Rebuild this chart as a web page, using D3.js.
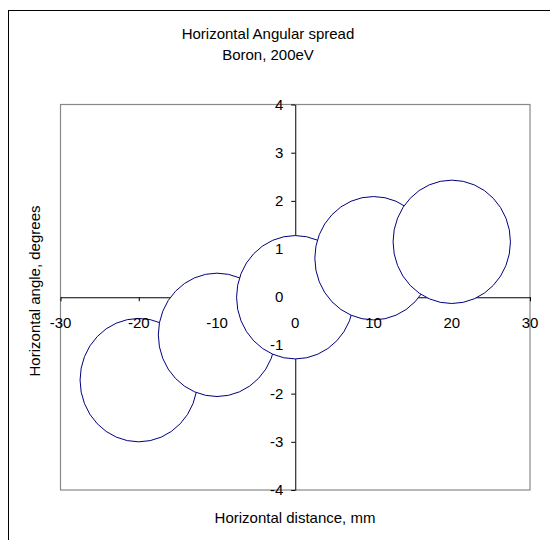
<!DOCTYPE html>
<html>
<head>
<meta charset="utf-8">
<script src="https://cdn.jsdelivr.net/npm/d3@7"></script>
<style>
body { margin: 0; background: #fff; }
svg text { font-family: "Liberation Sans", Arial, sans-serif; fill: #000; }
</style>
</head>
<body>
<div id="chart"></div>
<script>
(function(d3) {
'use strict';

// beam spots: centre distance (mm), centre angle (deg)
var spotX = [-20, -10, 0, 10, 20];
var spotY = [-1.72, -0.78, 0.0, 0.81, 1.15];
var spotRx = [7.5, 7.5, 7.5, 7.5, 7.5];     // mm
var spotRy = [1.28, 1.28, 1.28, 1.28, 1.28]; // deg

var xTicks = [-30, -20, -10, 0, 10, 20, 30];
var yTicks = [-4, -3, -2, -1, 0, 1, 2, 3, 4];

var width = 550, height = 540;
var plot = {left: 60.5, right: 530, top: 104.5, bottom: 490};

var svg = d3.select('#chart')
	.append('svg')
	.attr('width', width)
	.attr('height', height);

// outer frame
svg.append('rect')
	.attr('x', 8.5).attr('y', 10.5)
	.attr('width', 560).attr('height', 560)
	.attr('fill', 'none')
	.attr('stroke', '#000');

var x = d3.scaleLinear().domain([-30, 30]).range([plot.left, plot.right]);
var y = d3.scaleLinear().domain([-4, 4]).range([plot.bottom, plot.top]);

// plot area border
svg.append('rect')
	.attr('x', plot.left).attr('y', plot.top)
	.attr('width', plot.right - plot.left)
	.attr('height', plot.bottom - plot.top)
	.attr('fill', 'none')
	.attr('stroke', '#888')
	.attr('stroke-width', 1.2);

// axes crossing at zero (lines + tick marks, labels drawn later on top)
var xAxis = d3.axisBottom(x).tickValues(xTicks).tickSize(4).tickSizeOuter(0).tickFormat('');
var yAxis = d3.axisLeft(y).tickValues(yTicks).tickSize(4).tickSizeOuter(0).tickFormat('');

var gx = svg.append('g')
	.attr('transform', 'translate(0,' + y(0) + ')')
	.call(xAxis);
var gy = svg.append('g')
	.attr('transform', 'translate(' + x(0) + ',0)')
	.call(yAxis);
[gx, gy].forEach(function(g) {
	g.selectAll('path, line').attr('stroke', '#000');
});

// spots, drawn in order so later ones cover earlier ones
var spots = spotX.map(function(d, i) {
	return {x: d, y: spotY[i], rx: spotRx[i], ry: spotRy[i]};
});
svg.append('g')
	.selectAll('ellipse')
	.data(spots)
	.enter().append('ellipse')
	.attr('cx', function(d) { return x(d.x); })
	.attr('cy', function(d) { return y(d.y); })
	.attr('rx', function(d) { return x(d.rx) - x(0); })
	.attr('ry', function(d) { return y(0) - y(d.ry); })
	.attr('fill', '#fff')
	.attr('stroke', '#000080')
	.attr('stroke-width', 1);

// tick labels on top
svg.append('g')
	.selectAll('text')
	.data(xTicks)
	.enter().append('text')
	.attr('x', function(d) { return x(d); })
	.attr('y', y(0) + 31)
	.attr('text-anchor', 'middle')
	.style('font-size', '15px')
	.text(function(d) { return d; });

svg.append('g')
	.selectAll('text')
	.data(yTicks)
	.enter().append('text')
	.attr('x', x(0) - 12)
	.attr('y', function(d) { return y(d) + 5; })
	.attr('text-anchor', 'end')
	.style('font-size', '15px')
	.text(function(d) { return d; });

// titles
var title = svg.append('text')
	.attr('text-anchor', 'middle')
	.style('font-size', '15px');
title.append('tspan').attr('x', 268).attr('y', 39).text('Horizontal Angular spread');
title.append('tspan').attr('x', 268).attr('y', 60).text('Boron, 200eV');

svg.append('text')
	.attr('x', 295)
	.attr('y', 523)
	.attr('text-anchor', 'middle')
	.style('font-size', '15px')
	.text('Horizontal distance, mm');

svg.append('clipPath')
	.attr('id', 'ylabclip')
	.append('rect')
	.attr('x', 0).attr('y', 203).attr('width', 60).attr('height', 300);

svg.append('g')
	.attr('clip-path', 'url(#ylabclip)')
	.append('text')
	.attr('transform', 'translate(40,291) rotate(-90)')
	.attr('text-anchor', 'middle')
	.style('font-size', '15px')
	.text('Horizontal angle, degrees');

})(window.d3);
</script>
</body>
</html>
